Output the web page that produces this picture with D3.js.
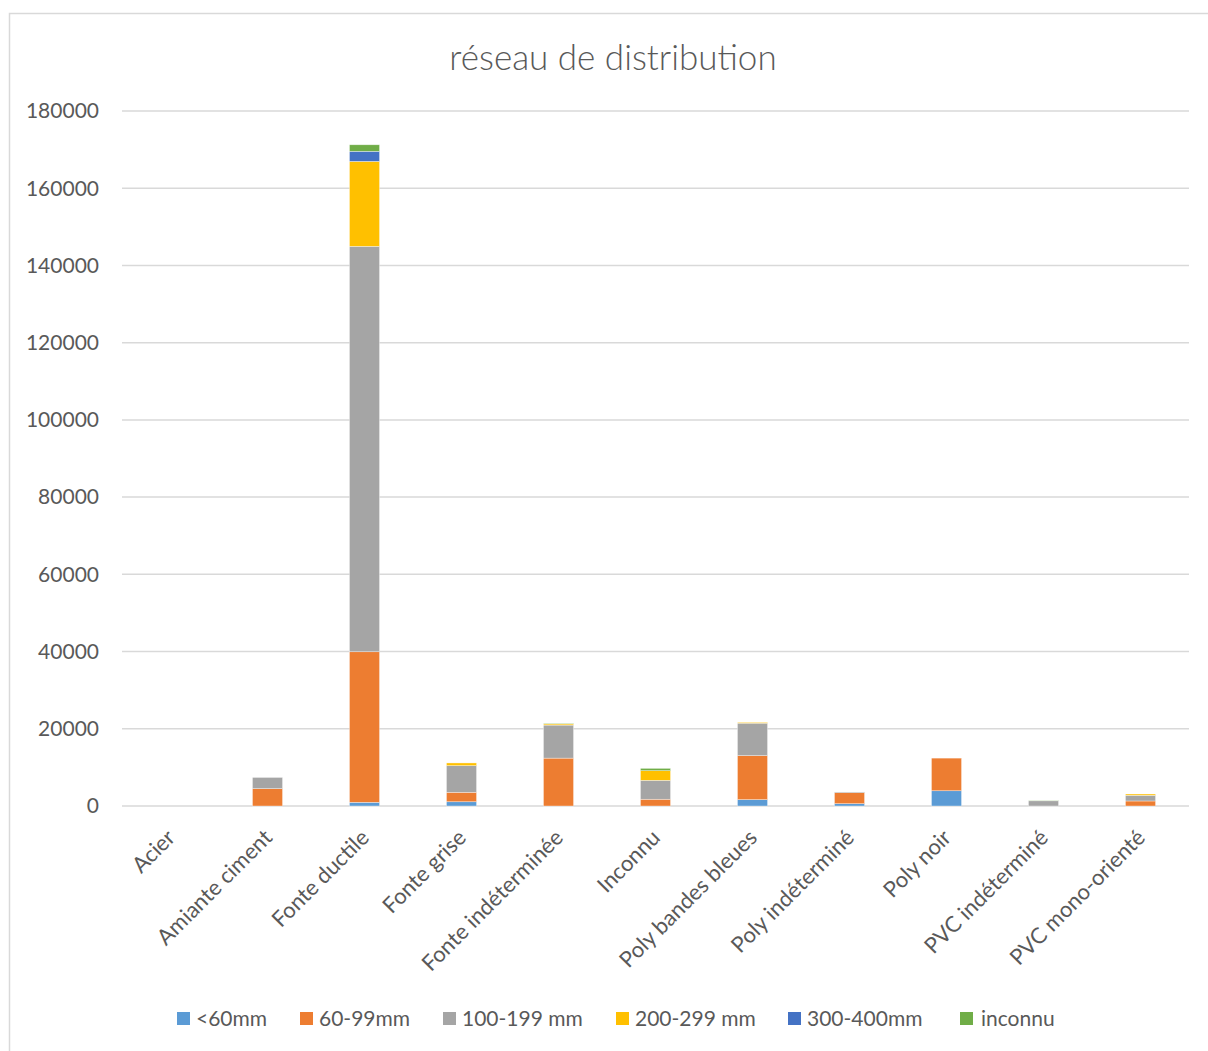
<!DOCTYPE html>
<html>
<head>
<meta charset="utf-8">
<script src="https://cdn.jsdelivr.net/npm/d3@7"></script>
<style>
  body { margin: 0; background: #fff; }
  text { font-family: Lato, "Open Sans", sans-serif; fill: #595959; }
</style>
</head>
<body>
<div id="chart"></div>
<script>
// categories and series
var categories = ["Acier", "Amiante ciment", "Fonte ductile", "Fonte grise", "Fonte indéterminée",
    "Inconnu", "Poly bandes bleues", "Poly indéterminé", "Poly noir", "PVC indéterminé", "PVC mono-orienté"];
var seriesNames = ["<60mm", "60-99mm", "100-199 mm", "200-299 mm", "300-400mm", "inconnu"];
var seriesColors = ["#5b9bd5", "#ed7d31", "#a5a5a5", "#ffc000", "#4472c4", "#70ad47"];

var s_lt60    = [0, 0, 950, 1100, 0, 0, 1650, 600, 3950, 0, 0];
var s_60_99   = [0, 4500, 39000, 2450, 12400, 1750, 11400, 2850, 8450, 0, 1300];
var s_100_199 = [0, 2900, 105000, 6900, 8550, 4900, 8400, 180, 0, 1350, 1470];
var s_200_299 = [0, 0, 22000, 700, 300, 2500, 200, 0, 0, 0, 330];
var s_300_400 = [0, 0, 2600, 0, 0, 0, 0, 0, 0, 0, 0];
var s_inconnu = [0, 0, 1700, 0, 150, 600, 0, 0, 0, 100, 0];

var yTicks = [0, 20000, 40000, 60000, 80000, 100000, 120000, 140000, 160000, 180000];

var W = 1208, H = 1051;
var plot = {left: 122, right: 1189, top: 111, bottom: 806};

var svg = d3.select("#chart").append("svg")
    .attr("width", W).attr("height", H);

// chart frame
svg.append("rect")
    .attr("x", 9.5).attr("y", 13.5)
    .attr("width", W + 10).attr("height", H + 10)
    .attr("fill", "none").attr("stroke", "#d9d9d9").attr("stroke-width", 1.5);

svg.append("text")
    .attr("x", 613).attr("y", 70)
    .attr("text-anchor", "middle")
    .style("font-size", "35px").style("font-weight", 300)
    .text("réseau de distribution");

var x = d3.scaleBand()
    .domain(categories)
    .range([plot.left, plot.right])
    .paddingInner(0.69).paddingOuter(0.345);

var y = d3.scaleLinear()
    .domain([0, 180000])
    .range([plot.bottom, plot.top]);

// gridlines
svg.append("g").selectAll("line")
    .data(yTicks).enter().append("line")
    .attr("x1", plot.left).attr("x2", plot.right)
    .attr("y1", function(d) { return y(d); })
    .attr("y2", function(d) { return y(d); })
    .attr("stroke", "#d9d9d9").attr("stroke-width", 1.5);

// y labels
svg.append("g").selectAll("text")
    .data(yTicks).enter().append("text")
    .attr("x", 99)
    .attr("y", function(d) { return y(d); })
    .attr("dy", "0.35em")
    .attr("text-anchor", "end")
    .style("font-size", "21px")
    .text(function(d) { return d; });

// stack the series
var table = categories.map(function(c, i) {
    return {cat: c, s0: s_lt60[i], s1: s_60_99[i], s2: s_100_199[i],
            s3: s_200_299[i], s4: s_300_400[i], s5: s_inconnu[i]};
});
var keys = ["s0", "s1", "s2", "s3", "s4", "s5"];
var stacked = d3.stack().keys(keys)(table);

svg.append("g").selectAll("g")
    .data(stacked).enter().append("g")
    .attr("fill", function(d, i) { return seriesColors[i]; })
    .selectAll("rect")
    .data(function(d) { return d; }).enter().append("rect")
    .attr("x", function(d) { return x(d.data.cat); })
    .attr("width", x.bandwidth())
    .attr("y", function(d) { return y(d[1]); })
    .attr("height", function(d) { return Math.max(0, y(d[0]) - y(d[1])); })
    .attr("stroke", "#fff").attr("stroke-width", 0.6).attr("stroke-opacity", 0.6);

// x labels, rotated
svg.append("g").selectAll("text")
    .data(categories).enter().append("text")
    .attr("transform", function(d) {
        return "translate(" + (x(d) + x.bandwidth() / 2 + 6) + "," + 839 + ") rotate(-45)";
    })
    .attr("text-anchor", "end")
    .style("font-size", "22px")
    .text(function(d) { return d; });

// legend
var legend = svg.append("g").attr("transform", "translate(0,1019)");
var legX = [177, 300, 443, 616, 788, 960];
var items = legend.selectAll("g")
    .data(seriesNames).enter().append("g")
    .attr("transform", function(d, i) { return "translate(" + legX[i] + ",0)"; });
items.append("rect")
    .attr("x", 0).attr("y", -7).attr("width", 13).attr("height", 13)
    .attr("fill", function(d, i) { return seriesColors[i]; });
items.append("text")
    .attr("x", function(d, i) { return i == 5 ? 21 : 19; })
    .attr("dy", "0.35em")
    .style("font-size", "21px")
    .text(function(d) { return d; });
</script>
</body>
</html>
